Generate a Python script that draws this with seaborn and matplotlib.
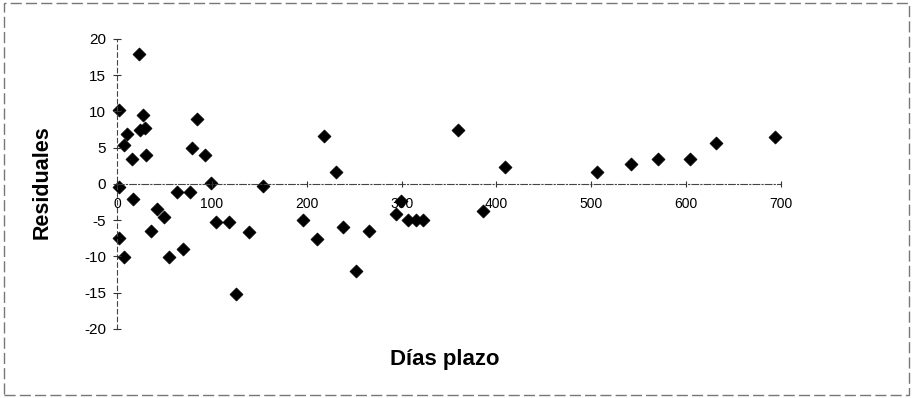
import matplotlib
matplotlib.use("Agg")
import matplotlib.pyplot as plt
import seaborn as sns
import pandas as pd
from matplotlib.patches import Rectangle

dias = [23.2, 2.4, 27.8, 10.2, 7.0, 24.2, 29.5, 15.5, 30.6, 84.0, 79.4, 92.4,
        98.8, 154.0, 1.8, 16.5, 62.9, 77.0, 42.5, 49.9, 104.7, 118.0, 139.5,
        36.2, 2.4, 69.2, 7.7, 55.2, 125.0,
        218.6, 230.9, 196.4, 210.5, 238.2, 265.3, 251.6, 294.5, 299.0,
        307.0, 315.0, 323.0, 359.0,
        409.0, 385.5, 505.7, 541.4, 570.0, 604.0, 632.0, 694.0]
residuales = [17.9, 10.2, 9.5, 6.9, 5.4, 7.5, 7.7, 3.5, 4.0, 9.0, 5.0, 4.0,
              0.2, -0.3, -0.4, -2.1, -1.1, -1.1, -3.4, -4.6, -5.2, -5.2, -6.6,
              -6.5, -7.5, -8.9, -10.1, -10.1, -15.2,
              6.6, 1.7, -5.0, -7.6, -5.9, -6.5, -12.0, -4.1, -2.4,
              -5.0, -5.0, -4.9, 7.4,
              2.3, -3.7, 1.7, 2.8, 3.4, 3.5, 5.6, 6.5]
x_ticks = [0, 100, 200, 300, 400, 500, 600, 700]
y_ticks = [-20, -15, -10, -5, 0, 5, 10, 15, 20]

df = pd.DataFrame({"Días plazo": dias, "Residuales": residuales})

sns.set_style("white")
plt.rcParams['font.family'] = ['Liberation Sans', 'DejaVu Sans']
plt.rcParams['text.color'] = 'black'
plt.rcParams['xtick.color'] = 'black'
plt.rcParams['ytick.color'] = 'black'

fig = plt.figure(figsize=(9.13, 3.98), dpi=100)
ax = fig.add_axes([117/913, 1 - 329/398, (781 - 117)/913, (329 - 39)/398])
ax.set_axisbelow(False)

sns.scatterplot(data=df, x="Días plazo", y="Residuales", marker="D", s=44,
                color="black", edgecolor="black", linewidth=0.5, ax=ax,
                clip_on=False, zorder=1)

ax.set_xlim(0, 700)
ax.set_ylim(-20, 20)
ax.set_xticks(x_ticks)
ax.set_yticks(y_ticks)
ax.set_xticklabels([str(v) for v in x_ticks], fontsize=11)
ax.set_yticklabels([str(v) for v in y_ticks], fontsize=11)

for s in ["top", "right"]:
    ax.spines[s].set_visible(False)
ax.spines["bottom"].set_position(("data", 0))
ax.spines["bottom"].set_color("#444444")
ax.spines["bottom"].set_linestyle((0, (6, 2, 1, 2)))
ax.spines["bottom"].set_linewidth(0.8)
ax.spines["left"].set_color("#444444")
ax.spines["left"].set_linestyle((0, (4, 3)))
ax.spines["left"].set_linewidth(0.8)
ax.tick_params(axis="x", direction="inout", length=5, width=0.8, color="#333333",
               pad=7, bottom=True, labelcolor="black")
ax.tick_params(axis="y", direction="inout", length=6, width=0.8, color="#333333",
               pad=5, left=True, labelcolor="black")

ax.set_xlabel("")
ax.set_ylabel("")
fig.text(445/913, 1 - 360/398, "Días plazo", ha="center", va="center",
         fontsize=16, fontweight="bold", color="black")
fig.text(42/913, 1 - 182/398, "Residuales", ha="center", va="center",
         rotation=90, fontsize=15.5, fontweight="bold", color="black")

fig.patches.append(Rectangle((0.004, 0.008), 0.992, 0.984, transform=fig.transFigure,
                             fill=False, edgecolor="#777777", linewidth=1.0,
                             linestyle=(0, (8, 3))))

fig.savefig("out.png", dpi=100)
